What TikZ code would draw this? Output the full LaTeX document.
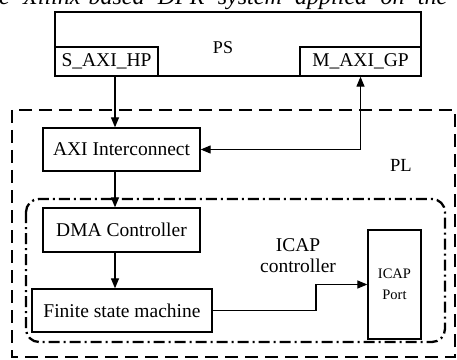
\documentclass[tikz,border=0pt]{standalone}
\usepackage{fontspec}
\setmainfont{Liberation Serif}
\usetikzlibrary{arrows.meta,calc}
\begin{document}
\begin{tikzpicture}[x=1pt,y=1pt,
  blk/.style={draw,line width=1.3pt,inner sep=0pt},
  lbl/.style={font=\fontsize{19.5}{22}\selectfont,inner sep=0pt},
  arr/.style={line width=1.2pt,-{Triangle[length=10pt,width=8pt]}},
  biarr/.style={line width=1.2pt,{Triangle[length=10pt,width=8pt]}-{Triangle[length=10pt,width=8pt]}},
  plbox/.style={line width=2.6pt,dash pattern=on 13pt off 7pt},
  ctlbox/.style={line width=2.3pt,dash pattern=on 11pt off 4pt on 2pt off 4pt,rounded corners=13pt}]
\useasboundingbox (0,0) rectangle (457,359);
\clip (0,0) rectangle (457,359);

% caption line cut off at the top edge
\node[anchor=base west,inner sep=0pt,font=\fontsize{24}{28}\selectfont\itshape] (cap) at (-1,354.5)
  {\makebox[448pt][s]{e Xilinx-based DPR system applied on the}};

% processing system
\draw[blk] (55,347) rectangle (421,283);
\node[lbl,font=\fontsize{18}{22}\selectfont] (ps) at (223,311) {PS};
\node[blk,minimum width=103pt,minimum height=29pt,lbl] (shp) at (106.5,297.5) {S\_AXI\_HP};
\node[blk,minimum width=121pt,minimum height=29pt,lbl] (mgp) at (360.5,297.5) {M\_AXI\_GP};

% programmable logic
\draw[plbox] (12,249) rectangle (455,2);
\node[lbl,font=\fontsize{18.5}{22}\selectfont] (pl) at (401,194) {PL};
\draw[ctlbox] (26,160) rectangle (445,17);
\node[lbl,align=center,font=\fontsize{19.5}{21}\selectfont] (ctl) at (298,103.5) {ICAP\\controller};

\node[blk,lbl,minimum width=157pt,minimum height=43pt] (axi) at (121.5,209.5) {AXI Interconnect};
\node[blk,lbl,minimum width=157pt,minimum height=44pt] (dma) at (121.5,129) {DMA Controller};
\node[blk,lbl,minimum width=180pt,minimum height=43pt] (fsm) at (122,48.5) {Finite state machine};
\node[blk,minimum width=53pt,minimum height=109pt,align=center,inner sep=0pt,
      font=\fontsize{14.5}{21}\selectfont] (icap) at (394.5,74.5) {ICAP\\Port};

% connections
\coordinate (xa) at (115,0);
\coordinate (xb) at (316,0);
\draw[arr] (shp.south -| xa) -- (axi.north -| xa);
\draw[arr] (axi.south -| xa) -- (dma.north -| xa);
\draw[arr] (dma.south -| xa) -- (fsm.north -| xa);
\draw[biarr] (mgp.south) -- (mgp.south |- axi.east) -- (axi.east);
\draw[arr] (fsm.east) -- (fsm.east -| xb) -- (xb |- icap.west) -- (icap.west);
\end{tikzpicture}
\end{document}
